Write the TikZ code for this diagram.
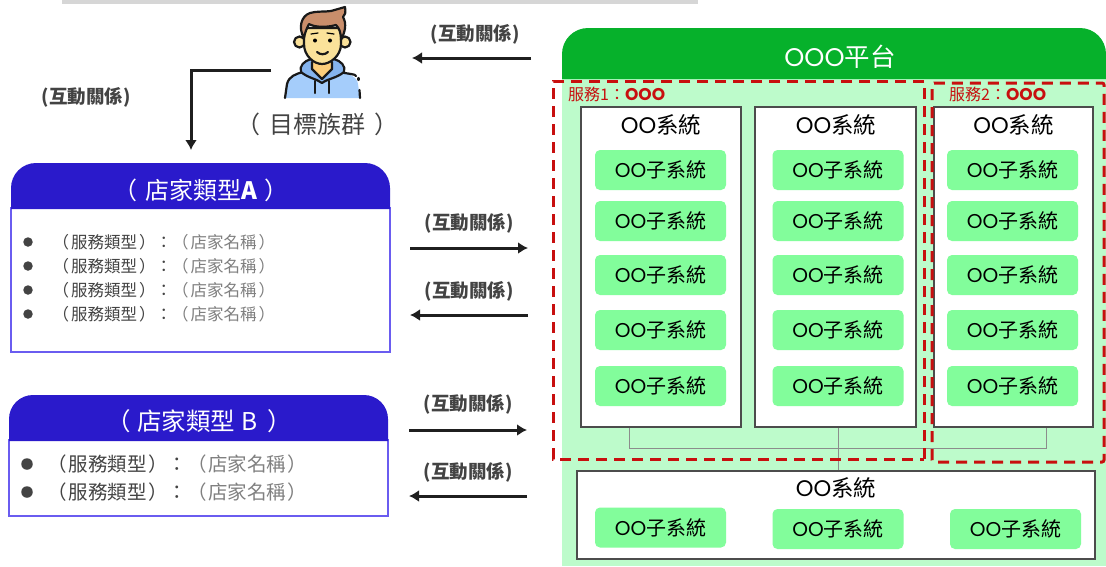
\documentclass[tikz,border=0pt]{standalone}
\usepackage{fontspec}
\setmainfont{Noto Sans CJK TC}
\newfontfamily\popp{Poppins}
\usetikzlibrary{arrows.meta,calc}
\definecolor{hdblue}{HTML}{2A1ACB}
\definecolor{bdblue}{HTML}{6A5CF0}
\definecolor{plat}{HTML}{06B12B}
\definecolor{lightg}{HTML}{BDFBCB}
\definecolor{pill}{HTML}{82FD9B}
\definecolor{dred}{HTML}{C80F0F}
\definecolor{gtxt}{HTML}{434343}
\definecolor{ltxt}{HTML}{808080}
\definecolor{hoodie}{HTML}{A5CDFB}
\definecolor{hoodin}{HTML}{85B4EE}
\definecolor{skin}{HTML}{FBE29A}
\definecolor{hair}{HTML}{C98E6B}
\tikzset{
 sysbox/.style={draw=black!70,line width=1.2pt,fill=white,inner sep=0},
 pillbox/.style={fill=pill,rounded corners=5pt,text=black,font=\fontsize{20}{20}\selectfont,inner sep=0,anchor=center},
 systitle/.style={text=black,font=\fontsize{22.5}{22.5}\selectfont,inner sep=0},
 rellabel/.style={text=gtxt,font=\fontsize{18.5}{18.5}\selectfont\bfseries,inner sep=0},
 relarrow/.style={draw=black!88,line width=3pt,-{Latex[length=10pt,width=12pt]}},
 svcframe/.style={draw=dred,line width=3pt,dash pattern=on 11pt off 7pt},
 svclabel/.style={text=dred,font=\fontsize{16}{16}\selectfont,inner sep=0,anchor=west},
 conn/.style={draw=black!45,line width=.9pt},
 itemtxt/.style={inner sep=0,anchor=west},
 bulletdot/.style={circle,fill=gtxt,inner sep=0},
 headtxt/.style={text=white,inner sep=0},
 pline/.style={draw=black!90,line width=2.2pt,line join=round,line cap=round},
}
\newcommand{\Oo}[1]{{\popp #1}}
\newcommand{\pillat}[4]{\node[pillbox,minimum width=131pt,minimum height=40pt] (#1) at (#2,#3) {\Oo{OO}子系統};}
\newcommand{\itemA}[2]{\node[bulletdot,minimum size=9.5pt] (#1d) at (28,#2) {};
 \node[itemtxt,font=\fontsize{16.5}{16.5}\selectfont] (#1t) at (52.5,#2) {\color{gtxt}（\hspace{2pt}服務類型\hspace{2pt}）：\color{ltxt}（\hspace{2pt}店家名稱\hspace{2pt}）};}
\newcommand{\itemB}[2]{\node[bulletdot,minimum size=11.5pt] (#1d) at (27,#2) {};
 \node[itemtxt,font=\fontsize{19.5}{19.5}\selectfont] (#1t) at (47.5,#2) {\color{gtxt}（\hspace{1.5pt}服務類型\hspace{1.5pt}）：\color{ltxt}（\hspace{1.5pt}店家名稱\hspace{1.5pt}）};}
\begin{document}
\begin{tikzpicture}[x=1pt,y=-1pt]
\useasboundingbox (0,0) rectangle (1106,566);
\fill[black!16] (62,0) rectangle (698,4);
% platform
\fill[lightg] (562,79) rectangle (1106,566);
\fill[plat] (562,79) -- (562,54) arc[start angle=180,end angle=270,radius=26] -- (1080,28) arc[start angle=270,end angle=360,radius=26] -- (1106,79) -- cycle;
\node[headtxt,font=\fontsize{25.5}{25.5}\selectfont] (plat) at (840,57) {\Oo{OOO}平台};
% connectors
\coordinate (j1) at (629,448);
\coordinate (j2) at (838,448);
\coordinate (j3) at (1046,448);
% system boxes
\node[sysbox,minimum width=160pt,minimum height=320pt] (s1) at (661,267) {};
\node[sysbox,minimum width=161pt,minimum height=320pt] (s2) at (835.5,267) {};
\node[sysbox,minimum width=159pt,minimum height=320pt] (s3) at (1013.5,267) {};
\node[sysbox,minimum width=518pt,minimum height=88pt] (s4) at (836,515) {};
\draw[conn] (s1.south -| j1) |- (j3) -- (s3.south -| j3);
\draw[conn] (s2.south -| j2) -- (s4.north -| j2);
\node[systitle] (t1) at (661,125) {\Oo{OO}系統};
\node[systitle] (t2) at (836,125) {\Oo{OO}系統};
\node[systitle] (t3) at (1013.5,125) {\Oo{OO}系統};
\node[systitle] (t4) at (836,488) {\Oo{OO}系統};
\pillat{a1}{660.5}{170}{}\pillat{a2}{660.5}{221}{}\pillat{a3}{660.5}{275}{}\pillat{a4}{660.5}{330}{}\pillat{a5}{660.5}{386}{}
\pillat{b1}{838}{170}{}\pillat{b2}{838}{221}{}\pillat{b3}{838}{275}{}\pillat{b4}{838}{330}{}\pillat{b5}{838}{386}{}
\pillat{c1}{1012.5}{170}{}\pillat{c2}{1012.5}{221}{}\pillat{c3}{1012.5}{275}{}\pillat{c4}{1012.5}{330}{}\pillat{c5}{1012.5}{386}{}
\pillat{d1}{660.5}{527.5}{}\pillat{d2}{838}{529}{}\pillat{d3}{1015.5}{529}{}
% service frames
\draw[svcframe] (924,459) -- (924,81) -- (553,81) -- (553,459) -- cycle;
\draw[svcframe,rounded corners=2pt] (932,462) -- (932,83) -- (1104,83) -- (1104,462) -- cycle;
\node[svclabel] (sv1) at (568,94) {服務1：\Oo{\bfseries\fontsize{17}{17}\selectfont OOO}};
\node[svclabel] (sv2) at (949,94) {服務2：\Oo{\bfseries\fontsize{17}{17}\selectfont OOO}};
% store A
\fill[white] (11,208) rectangle (390,352);
\draw[bdblue,line width=1.1pt] (11,208) rectangle (390,352);
\fill[hdblue] (11,209) -- (11,188) arc[start angle=180,end angle=270,radius=25] -- (365,163) arc[start angle=270,end angle=360,radius=25] -- (390,209) -- cycle;
\node[headtxt,font=\fontsize{24}{24}\selectfont] (ha) at (201,190) {（\hspace{8pt}店家類型{\bfseries A}\hspace{8pt}）};
\itemA{ia1}{242}\itemA{ia2}{266}\itemA{ia3}{290}\itemA{ia4}{314}
% store B
\draw[bdblue,line width=1.1pt] (9,440) rectangle (388,516);
\fill[hdblue] (9,441) -- (9,419) arc[start angle=180,end angle=270,radius=24] -- (364,395) arc[start angle=270,end angle=360,radius=24] -- (388,441) -- cycle;
\node[headtxt,font=\fontsize{24.5}{24.5}\selectfont] (hb) at (199.5,421) {（\hspace{6pt}店家類型\hspace{6pt}B\hspace{10pt}）};
\itemB{ib1}{464}\itemB{ib2}{492}
% person
\begin{scope}
 \fill[hoodie] (285,98) -- (287,84) .. controls (289,76) and (296,74) .. (304,71) -- (340,71) .. controls (348,74) and (357,76) .. (358,84) -- (360,98) -- cycle;
 \draw[pline] (285,98) -- (287,84) .. controls (289,76) and (296,74) .. (303,72);
 \draw[pline] (340,72) .. controls (348,74) and (356,74) .. (356,76);
 \draw[pline] (358.5,78) -- (358.5,80);
 \draw[pline] (359.5,90) -- (360,98);
 % hood
 \fill[hoodin] (301,72) .. controls (299,66) and (304,61) .. (311,59) -- (334,59) .. controls (341,61) and (346,66) .. (344,72) .. controls (337,78) and (327,79) .. (322,83) .. controls (317,79) and (308,78) .. (301,72) -- cycle;
 \draw[pline] (301,72) .. controls (299,66) and (304,61) .. (311,59);
 \draw[pline] (334,59) .. controls (341,61) and (346,66) .. (344,72) .. controls (337,78) and (327,79) .. (322,83) .. controls (317,79) and (308,78) .. (301,72);
 % neck
 \fill[skin!80!orange] (312,58) -- (312,69) -- (322,79) -- (332,69) -- (332,58) -- cycle;
 \draw[pline] (312,62) -- (312,69) -- (322,79) -- (332,69) -- (332,62);
 % strings
 \draw[pline] (315,81) -- (315,93);
 \draw[pline] (329,81) -- (329,93);
 % ears
 \filldraw[pline,fill=skin] (299.5,42) circle[radius=5.5];
 \filldraw[pline,fill=skin] (345,42) circle[radius=5.5];
 % face
 \filldraw[pline,fill=skin] (304,28) -- (304,44) .. controls (304,56) and (314,64) .. (322,64) .. controls (330,64) and (341,56) .. (341,44) -- (341,28) -- cycle;
 % hair
 \filldraw[pline,fill=hair] (304,38) .. controls (298,28) and (301,16) .. (310,13) .. controls (316,11) and (325,12) .. (331,11) -- (345,7) .. controls (346,13) and (345,15) .. (343,17) .. controls (347,24) and (345,32) .. (341,40) .. controls (341,32) and (339,28) .. (336,25) .. controls (325,28) and (314,27) .. (309,24) .. controls (307,28) and (305,32) .. (304,38) -- cycle;
 % eyes & mouth
 \fill (315,40.5) circle[radius=2];
 \fill (330,40.5) circle[radius=2];
 \draw[black,line width=1.2pt,line cap=round] (311,34) -- (318,33);
 \draw[black,line width=1.2pt,line cap=round] (327,33) -- (334,34);
 \draw[pline] (317,52) .. controls (320,55) and (325,55) .. (328,52);
\end{scope}
\node[text=gtxt,font=\fontsize{24}{24}\selectfont,inner sep=0] (who) at (317.5,124) {（\hspace{9pt}目標族群\hspace{9pt}）};
% relation arrows
\coordinate (pa) at (531,58);\coordinate (pb) at (412,58);
\coordinate (qa) at (271,70);\coordinate (qb) at (191,150);
\draw[relarrow] (pa) -- (pb);
\draw[relarrow] (qa) -| (qb);
\coordinate (ra) at (410,248);\coordinate (rb) at (528,248);
\coordinate (sa) at (528,315);\coordinate (sb) at (410,315);
\coordinate (ta) at (409,430);\coordinate (tb) at (527,430);
\coordinate (ua) at (527,496);\coordinate (ub) at (409,496);
\draw[relarrow] (ra) -- (rb);
\draw[relarrow] (sa) -- (sb);
\draw[relarrow] (ta) -- (tb);
\draw[relarrow] (ua) -- (ub);
\node[rellabel] (l1) at (475,34) {(互動關係)};
\node[rellabel] (l2) at (86,97) {(互動關係)};
\node[rellabel] (l3) at (469,223) {(互動關係)};
\node[rellabel] (l4) at (469,291) {(互動關係)};
\node[rellabel] (l5) at (468,404) {(互動關係)};
\node[rellabel] (l6) at (468,472) {(互動關係)};
\end{tikzpicture}
\end{document}
